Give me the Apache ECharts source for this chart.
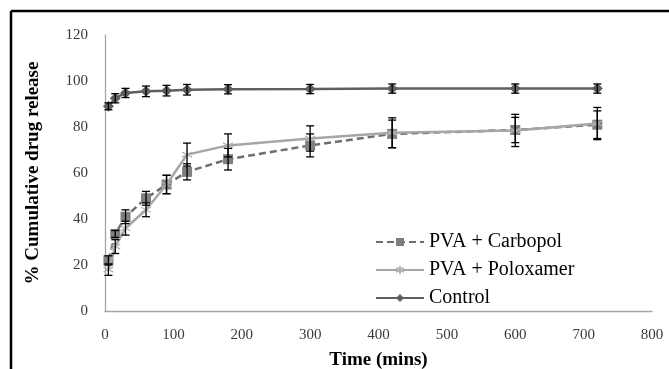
<!DOCTYPE html>
<html>
<head>
<meta charset="utf-8">
<script src="https://cdn.jsdelivr.net/npm/echarts@6/dist/echarts.min.js"></script>
<style>
  html, body { margin: 0; padding: 0; background: #fff; }
  #chart { width: 669px; height: 369px; }
</style>
</head>
<body>
<div id="chart"></div>
<script>
// time points (mins)
const times = [5, 15, 30, 60, 90, 120, 180, 300, 420, 600, 720];

const carbopol = [22, 33.5, 41, 49, 55, 60.5, 66, 72, 77, 78.7, 81];
const carbopolErr = [2, 1.5, 3, 3, 4, 3.5, 4.7, 5, 6, 5.5, 6];

const poloxamer = [18, 28, 36, 44, 55, 68, 72, 75, 77.5, 78.5, 81.5];
const poloxamerErr = [2.5, 3, 3, 3, 4, 5, 5, 5.5, 6.5, 7, 7];

const control = [89, 92.5, 94.8, 95.5, 95.8, 96.2, 96.4, 96.5, 96.7, 96.7, 96.7];
const controlErr = [1.5, 2, 2, 2.3, 2.3, 2.3, 2, 2, 2, 2, 2];

const xTicks = [0, 800, 100];
const yTicks = [0, 120, 20];

const serif = 'Liberation Serif';

function pairs(vals) {
  return times.map((t, i) => [t, vals[i]]);
}

function errData(vals, errs) {
  return times.map((t, i) => [t, vals[i] - errs[i], vals[i] + errs[i]]);
}

function errorBars(vals, errs) {
  return {
    type: 'custom',
    silent: true,
    z: 5,
    data: errData(vals, errs),
    encode: { x: 0, y: [1, 2] },
    renderItem: function (params, api) {
      const lo = api.coord([api.value(0), api.value(1)]);
      const hi = api.coord([api.value(0), api.value(2)]);
      const w = 4;
      const style = { stroke: '#000', lineWidth: 1.3 };
      return {
        type: 'group',
        children: [
          { type: 'line', shape: { x1: lo[0], y1: lo[1], x2: hi[0], y2: hi[1] }, style: style },
          { type: 'line', shape: { x1: lo[0] - w, y1: lo[1], x2: lo[0] + w, y2: lo[1] }, style: style },
          { type: 'line', shape: { x1: hi[0] - w, y1: hi[1], x2: hi[0] + w, y2: hi[1] }, style: style }
        ]
      };
    }
  };
}

const asterisk = 'path://M0,-10L0,10M-8.66,-5L8.66,5M-8.66,5L8.66,-5';

const chart = echarts.init(document.getElementById('chart'), null, { renderer: 'canvas' });

chart.setOption({
  backgroundColor: '#ffffff',
  animation: false,
  textStyle: { fontFamily: serif },
  graphic: [
    { type: 'line', shape: { x1: 11, y1: 11, x2: 669, y2: 11 }, style: { stroke: '#000', lineWidth: 2.5 } },
    { type: 'line', shape: { x1: 11, y1: 11, x2: 11, y2: 369 }, style: { stroke: '#000', lineWidth: 2.5 } }
  ],
  grid: { left: 105, right: 17, top: 35, bottom: 58, containLabel: false, outerBoundsMode: 'none' },
  legend: {
    orient: 'vertical',
    left: 375,
    top: 232,
    padding: 0,
    itemWidth: 48,
    itemHeight: 10,
    itemGap: 8,
    textStyle: { fontFamily: serif, fontSize: 20, color: '#000' },
    data: ['PVA + Carbopol', 'PVA + Poloxamer', 'Control']
  },
  xAxis: {
    type: 'value',
    min: xTicks[0],
    max: xTicks[1],
    interval: xTicks[2],
    name: 'Time (mins)',
    nameLocation: 'middle',
    nameGap: 40,
    nameTextStyle: { fontFamily: serif, fontSize: 19, fontWeight: 'bold', color: '#000' },
    axisLine: { show: true, lineStyle: { color: '#a6a6a6', width: 1.3 } },
    axisTick: { show: false },
    splitLine: { show: false },
    axisLabel: { fontFamily: serif, fontSize: 15, color: '#3a3a3a', margin: 17 }
  },
  yAxis: {
    type: 'value',
    min: yTicks[0],
    max: yTicks[1],
    interval: yTicks[2],
    name: '% Cumulative drug release',
    nameLocation: 'middle',
    nameGap: 62,
    nameTextStyle: { fontFamily: serif, fontSize: 19, fontWeight: 'bold', color: '#000' },
    axisLine: { show: true, lineStyle: { color: '#a6a6a6', width: 1.3 } },
    axisTick: { show: false },
    splitLine: { show: false },
    axisLabel: { fontFamily: serif, fontSize: 15, color: '#3a3a3a', margin: 17 }
  },
  series: [
    {
      name: 'PVA + Carbopol',
      type: 'line',
      data: pairs(carbopol),
      symbol: 'rect',
      symbolSize: 10,
      z: 3,
      itemStyle: { color: '#7f7f7f' },
      lineStyle: { color: '#6e6e6e', width: 2.5, type: [7, 4] }
    },
    {
      name: 'PVA + Poloxamer',
      type: 'line',
      data: pairs(poloxamer),
      symbol: asterisk,
      symbolSize: 10,
      z: 4,
      itemStyle: { color: 'transparent', borderColor: '#b3b3b3', borderWidth: 1.2 },
      lineStyle: { color: '#a6a6a6', width: 2.5 }
    },
    {
      name: 'Control',
      type: 'line',
      data: pairs(control),
      symbol: 'diamond',
      symbolSize: 11,
      z: 3,
      itemStyle: { color: '#5f5f5f' },
      lineStyle: { color: '#5f5f5f', width: 2.5 }
    },
    errorBars(carbopol, carbopolErr),
    errorBars(poloxamer, poloxamerErr),
    errorBars(control, controlErr)
  ]
});
</script>
</body>
</html>
